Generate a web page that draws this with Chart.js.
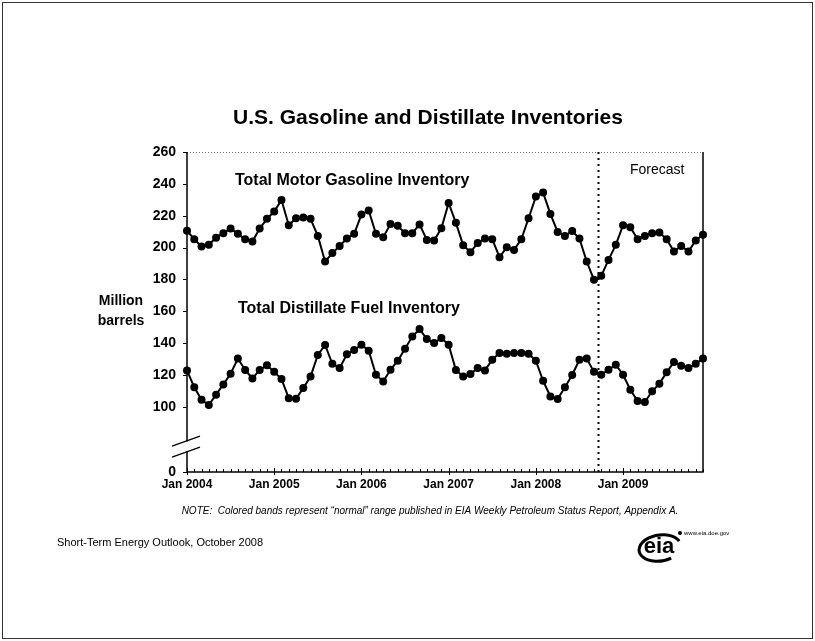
<!DOCTYPE html>
<html>
<head>
<meta charset="utf-8">
<title>U.S. Gasoline and Distillate Inventories</title>
<script src="https://cdn.jsdelivr.net/npm/chart.js@4.4.1/dist/chart.umd.min.js"></script>
<style>
  html, body { margin: 0; padding: 0; background: #fff; }
  #wrap { position: relative; width: 815px; height: 641px; }
</style>
</head>
<body>
<div id="wrap"><canvas id="chart" width="815" height="641"></canvas></div>
<script>
// --- data (million barrels, monthly Jan 2004 - Dec 2009) ---
const years = [2004, 2005, 2006, 2007, 2008, 2009];
const monthNames = ["Jan", "Feb", "Mar", "Apr", "May", "Jun", "Jul", "Aug", "Sep", "Oct", "Nov", "Dec"];

const gasoline = [
  210.6, 205.2, 200.6, 201.7, 206.2, 209.0, 211.9, 208.6, 205.2, 203.8, 211.9, 218.0,
  222.6, 229.9, 214.0, 218.4, 218.8, 218.0, 207.3, 191.2, 196.5, 201.0, 205.6, 208.6,
  220.7, 223.3, 208.6, 206.5, 214.7, 213.6, 209.0, 209.0, 214.5, 204.8, 204.4, 212.1,
  228.0, 215.5, 201.5, 197.1, 202.8, 205.6, 205.2, 193.9, 200.2, 198.5, 205.2, 218.4,
  232.0, 234.5, 221.1, 209.8, 207.3, 210.3, 205.6, 191.2, 179.7, 182.2, 192.2, 201.7,
  214.0, 212.8, 205.2, 207.3, 209.0, 209.4, 205.2, 197.5, 201.0, 197.5, 204.4, 208.0
];

const distillate = [
  122.8, 112.2, 104.4, 101.1, 107.6, 114.0, 120.7, 130.3, 123.1, 117.8, 123.1, 126.0,
  121.9, 117.4, 105.4, 105.0, 111.7, 119.0, 132.5, 138.8, 127.0, 124.3, 132.9, 135.6,
  138.9, 135.2, 120.1, 115.9, 123.2, 128.9, 136.4, 144.1, 148.8, 142.5, 140.0, 143.1,
  138.9, 123.0, 119.0, 120.5, 124.3, 122.8, 129.5, 133.7, 133.3, 133.7, 133.7, 133.3,
  128.9, 116.3, 106.4, 104.8, 112.2, 119.9, 129.5, 130.3, 121.9, 120.1, 123.2, 126.4,
  120.1, 110.7, 103.6, 103.0, 109.7, 114.5, 121.6, 128.1, 125.8, 124.3, 127.0, 130.3
];

const yTicks = [0, 100, 120, 140, 160, 180, 200, 220, 240, 260];
const axisFloor = 59;        // the broken axis draws "0" at this value
const forecastStart = 56.5;  // between Sep and Oct 2008

const months = [];
years.forEach((yr) => monthNames.forEach((m) => months.push(m + " " + yr)));

const FONT = "'Liberation Sans', Arial, Helvetica, sans-serif";

// --- extra drawing: frame, ticks, axis break, annotations ---
const decorations = {
  id: "decorations",
  beforeDatasetsDraw(chart) {
    const { ctx, chartArea: a, scales: { x, y } } = chart;
    ctx.save();

    // dotted top edge
    ctx.strokeStyle = "#777";
    ctx.lineWidth = 1;
    ctx.setLineDash([1, 2]);
    ctx.beginPath();
    ctx.moveTo(a.left, a.top + 0.5);
    ctx.lineTo(a.right, a.top + 0.5);
    ctx.stroke();

    // forecast divider
    const fx = Math.round(x.getPixelForValue(forecastStart)) + 0.5;
    ctx.strokeStyle = "#000";
    ctx.lineWidth = 2;
    ctx.setLineDash([2, 4]);
    ctx.beginPath();
    ctx.moveTo(fx, a.top);
    ctx.lineTo(fx, a.bottom);
    ctx.stroke();
    ctx.setLineDash([]);

    // axes and right edge
    ctx.lineWidth = 1.5;
    ctx.beginPath();
    ctx.moveTo(a.left, a.top);
    ctx.lineTo(a.left, a.bottom);
    ctx.lineTo(a.right, a.bottom);
    ctx.lineTo(a.right, a.top);
    ctx.stroke();

    // month ticks on x axis
    ctx.lineWidth = 1;
    months.forEach((m, i) => {
      const px = Math.round(x.getPixelForValue(i)) + 0.5;
      const jan = i % 12 === 0;
      ctx.beginPath();
      ctx.moveTo(px, a.bottom - (jan ? 4 : 3));
      ctx.lineTo(px, a.bottom + (jan ? 3 : 0));
      ctx.stroke();
    });

    // y ticks
    yTicks.forEach((v) => {
      const py = Math.round(y.getPixelForValue(v === 0 ? axisFloor : v)) + 0.5;
      ctx.beginPath();
      ctx.moveTo(a.left - 4, py);
      ctx.lineTo(a.left, py);
      ctx.stroke();
    });

    // axis break
    const by = y.getPixelForValue(75);
    ctx.fillStyle = "#fff";
    ctx.fillRect(a.left - 2, by - 5, 4, 10);
    ctx.strokeStyle = "#000";
    ctx.lineWidth = 1.3;
    [-5.5, 5.5].forEach((d) => {
      ctx.beginPath();
      ctx.moveTo(a.left - 15, by + d + 5);
      ctx.lineTo(a.left + 13, by + d - 5);
      ctx.stroke();
    });
    ctx.restore();
  },
  afterDraw(chart) {
    const { ctx } = chart;
    ctx.save();
    ctx.fillStyle = "#000";
    ctx.textBaseline = "middle";

    ctx.textAlign = "center";
    ctx.font = "bold 21px " + FONT;
    ctx.fillText("U.S. Gasoline and Distillate Inventories", 428, 118);

    ctx.textAlign = "left";
    ctx.font = "bold 16px " + FONT;
    ctx.fillText("Total Motor Gasoline Inventory", 235, 181);
    ctx.fillText("Total Distillate Fuel Inventory", 238, 309);

    ctx.font = "14px " + FONT;
    ctx.fillText("Forecast", 630, 170);

    ctx.textAlign = "center";
    ctx.font = "bold 14px " + FONT;
    ctx.fillText("Million", 121, 301);
    ctx.fillText("barrels", 121, 321);

    ctx.font = "italic 10px " + FONT;
    ctx.fillText("NOTE:  Colored bands represent \u201cnormal\u201d range published in EIA Weekly Petroleum Status Report, Appendix A.", 430, 511);

    ctx.textAlign = "left";
    ctx.font = "11px " + FONT;
    ctx.fillText("Short-Term Energy Outlook, October 2008", 57, 543);

    // eia logo
    ctx.lineWidth = 3;
    ctx.beginPath();
    ctx.ellipse(660, 548, 21, 13, -0.15, 0.35 * Math.PI, 1.9 * Math.PI);
    ctx.stroke();
    ctx.textAlign = "center";
    ctx.font = "bold 22px " + FONT;
    ctx.fillText("eia", 659, 547);
    ctx.beginPath();
    ctx.arc(680, 533, 2, 0, 2 * Math.PI);
    ctx.fill();
    ctx.textAlign = "left";
    ctx.font = "6px " + FONT;
    ctx.fillText("www.eia.doe.gov", 684, 533);

    // slide frame
    ctx.strokeStyle = "#333";
    ctx.lineWidth = 1;
    ctx.strokeRect(2.5, 2.5, 810, 636);
    ctx.restore();
  }
};

const seriesStyle = {
  borderColor: "#000",
  backgroundColor: "#000",
  pointBackgroundColor: "#000",
  pointBorderColor: "#000",
  borderWidth: 2,
  pointRadius: 3,
  pointHoverRadius: 3,
  tension: 0,
  clip: false
};

new Chart(document.getElementById("chart"), {
  type: "line",
  data: {
    labels: months,
    datasets: [
      { label: "Total Motor Gasoline Inventory", data: gasoline, ...seriesStyle },
      { label: "Total Distillate Fuel Inventory", data: distillate, ...seriesStyle }
    ]
  },
  options: {
    responsive: false,
    devicePixelRatio: 1,
    animation: false,
    events: [],
    layout: { padding: { left: 147, top: 152, right: 112, bottom: 139 } },
    plugins: { legend: { display: false }, title: { display: false }, tooltip: { enabled: false } },
    scales: {
      x: {
        type: "category",
        offset: false,
        grid: { display: false, drawTicks: false },
        border: { display: false },
        ticks: {
          autoSkip: false,
          maxRotation: 0,
          padding: 5,
          color: "#000",
          font: { family: FONT, size: 12, weight: "bold" },
          callback: (v, i) => (i % 12 === 0 ? "Jan " + years[i / 12] : "")
        },
        afterFit: (s) => { s.height = 30; }
      },
      y: {
        min: axisFloor,
        max: 260,
        grid: { display: false, drawTicks: false },
        border: { display: false },
        ticks: {
          padding: 11,
          color: "#000",
          font: { family: FONT, size: 14, weight: "bold" },
          callback: (v) => (v === axisFloor ? "0" : v)
        },
        afterBuildTicks: (s) => {
          s.ticks = yTicks.map((v) => ({ value: v === 0 ? axisFloor : v }));
        },
        afterFit: (s) => { s.width = 40; }
      }
    }
  },
  plugins: [decorations]
});
</script>
</body>
</html>
